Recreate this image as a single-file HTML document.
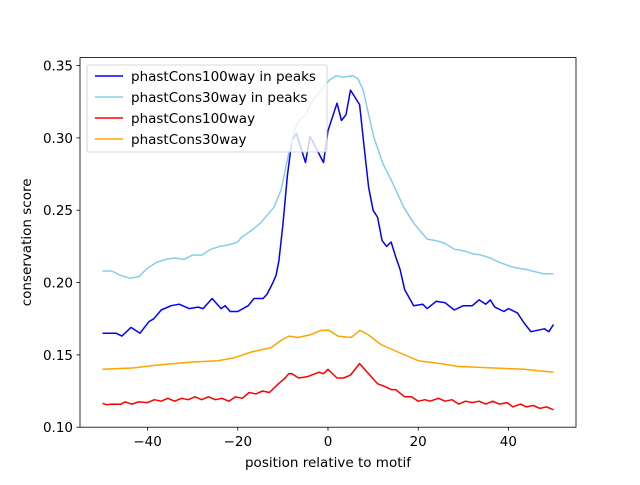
<!DOCTYPE html>
<html><head><meta charset="utf-8"><style>
body{margin:0;background:#fff}
svg text{font-family:"DejaVu Sans","Liberation Sans",sans-serif;fill:#000}
</style></head><body>
<svg width="640" height="480" xmlns="http://www.w3.org/2000/svg">
<g id="plot"></g>
</svg>
<script>
const xDark=[-50,-47,-45.7,-43.7,-41.7,-39.7,-38.6,-37,-34.8,-33,-30.8,-28.8,-27.7,-25.7,-23.7,-22.8,-21.7,-20,-17.7,-16.4,-14.4,-13.5,-12.2,-11.5,-10.9,-10,-9,-8,-7,-5,-4,-1,0,2,3,4,5,7,8,9,10,11,12,13,14,15,16,17,19,21,22,24,26,28,30,32,33.5,35,36,37,39,40,42,43.5,45,48,49,50];
const yDark=[0.165,0.165,0.163,0.169,0.165,0.173,0.175,0.181,0.184,0.185,0.182,0.183,0.182,0.189,0.182,0.184,0.180,0.180,0.184,0.189,0.189,0.192,0.200,0.205,0.215,0.240,0.274,0.298,0.303,0.283,0.301,0.283,0.305,0.324,0.312,0.316,0.333,0.323,0.294,0.266,0.250,0.245,0.229,0.225,0.228,0.218,0.209,0.195,0.184,0.185,0.182,0.187,0.186,0.181,0.184,0.184,0.188,0.185,0.188,0.183,0.180,0.182,0.179,0.172,0.166,0.168,0.166,0.171];
const xLight=[-50,-48,-46,-44,-42,-40,-38,-36,-34,-32,-30,-28,-26,-24,-22,-20,-19.3,-17,-15,-12,-10.4,-9,-7.5,-6.4,-5,-3.4,-1.5,0.3,1.8,3.3,5.5,6.6,7.8,8.8,10.2,12.2,14,16.8,19,20.6,22,24,26,28,30,32,34,36,38,40.6,42,44,46.5,48,50];
const yLight=[0.208,0.208,0.205,0.203,0.204,0.210,0.214,0.216,0.217,0.216,0.219,0.219,0.223,0.225,0.226,0.228,0.231,0.236,0.241,0.252,0.264,0.285,0.305,0.312,0.316,0.326,0.333,0.340,0.343,0.342,0.343,0.341,0.333,0.319,0.300,0.282,0.271,0.252,0.241,0.235,0.230,0.229,0.227,0.223,0.222,0.220,0.219,0.217,0.214,0.211,0.210,0.209,0.207,0.206,0.206];
const xRed=[-50,-49,-48,-46,-45,-43.5,-42,-40,-38.5,-37,-35.5,-34,-32.5,-31,-29.5,-28,-26.5,-25,-23.5,-22,-20.5,-19,-17.5,-16,-14.5,-13,-11,-9.5,-8.7,-8,-6.5,-4.5,-2,-1,0,2,3.5,5,7,9,11,12.7,14,15,17,18.5,20,21.5,22.6,24.5,26,27.5,29,30.5,32,33.5,35,36.5,38,39.7,41,42.7,44,45.5,47,48.5,50];
const yRed=[0.1165,0.1155,0.116,0.1158,0.1175,0.116,0.1175,0.117,0.119,0.118,0.120,0.118,0.120,0.119,0.121,0.119,0.121,0.119,0.120,0.118,0.121,0.120,0.124,0.123,0.125,0.124,0.130,0.134,0.137,0.137,0.134,0.135,0.138,0.137,0.140,0.134,0.134,0.136,0.144,0.137,0.130,0.128,0.126,0.126,0.121,0.121,0.118,0.119,0.118,0.120,0.118,0.119,0.116,0.118,0.117,0.118,0.116,0.118,0.116,0.117,0.114,0.116,0.114,0.115,0.113,0.114,0.112];
const xOrange=[-50,-43,-37.7,-30.4,-24.4,-20.8,-17,-12.6,-10.4,-8.6,-6.7,-3.8,-1.5,0.2,2.2,5.1,7.1,8.9,11.8,15.5,20,25,28.8,36.1,43.5,50];
const yOrange=[0.140,0.141,0.143,0.145,0.146,0.148,0.152,0.155,0.160,0.163,0.162,0.164,0.167,0.167,0.163,0.162,0.167,0.164,0.157,0.152,0.146,0.144,0.142,0.141,0.140,0.138];
const xTicks=[-40,-20,0,20,40];
const yTicks=[0.10,0.15,0.20,0.25,0.30,0.35];
const seriesNames=["phastCons100way in peaks","phastCons30way in peaks","phastCons100way","phastCons30way"];

const L=80,R=576,T=57.6,B=427.2,x0=-55,x1=55,y0=0.10,y1=0.3555;
const FS=13.5;
const sx=v=>L+(v-x0)/(x1-x0)*(R-L);
const sy=v=>B-(v-y0)/(y1-y0)*(B-T);
const NS="http://www.w3.org/2000/svg";
const g=document.getElementById('plot');
function mk(t,a,p){const e=document.createElementNS(NS,t);for(const k in a)e.setAttribute(k,a[k]);(p||g).appendChild(e);return e;}

const series=[[xDark,yDark,"#0000ff","series-100way-peaks"],[xLight,yLight,"#87ceeb","series-30way-peaks"],[xRed,yRed,"#ff0000","series-100way"],[xOrange,yOrange,"#ffa500","series-30way"]];
series.forEach(s=>{
  const d=s[0].map((x,i)=>(i?'L':'M')+sx(x).toFixed(1)+' '+sy(s[1][i]).toFixed(1)).join(' ');
  const p=mk('path',{d:d,fill:'none',stroke:s[2],'stroke-width':1.5,'stroke-linejoin':'round'});
  
  
});
const fr=mk('rect',{x:L,y:T,width:R-L,height:B-T,fill:'none',stroke:'#000','stroke-width':0.8});


xTicks.forEach(t=>{
  const X=sx(t);
  mk('line',{x1:X,x2:X,y1:B,y2:B+3.5,stroke:'#000','stroke-width':0.8});
  const tx=mk('text',{x:X,y:B+19,'text-anchor':'middle','font-size':FS});
  tx.textContent=(t<0?'\u2212'+(-t):t);
  
  
});
yTicks.forEach(t=>{
  const Y=sy(t);
  mk('line',{x1:L-3.5,x2:L,y1:Y,y2:Y,stroke:'#000','stroke-width':0.8});
  const tx=mk('text',{x:L-7,y:Y+5,'text-anchor':'end','font-size':FS});
  tx.textContent=t.toFixed(2);
  
  
});
const xl=mk('text',{x:(L+R)/2,y:467,'text-anchor':'middle','font-size':FS});
xl.textContent='position relative to motif';


const yl=mk('text',{x:0,y:0,'text-anchor':'middle','font-size':FS,transform:'translate(31,'+((T+B)/2)+') rotate(-90)'});
yl.textContent='conservation score';


const lg=mk('g',{});


mk('rect',{x:87,y:65,width:240,height:87,rx:2,fill:'#fff','fill-opacity':0.8,stroke:'#ccc','stroke-width':0.8},lg);
series.forEach((s,i)=>{
  const Y=76+i*21;
  mk('line',{x1:95,x2:123,y1:Y,y2:Y,stroke:s[2],'stroke-width':1.5},lg);
  const t=mk('text',{x:131,y:Y+5,'font-size':FS},lg);
  t.textContent=seriesNames[i];
  
  
});
</script>
</body></html>
